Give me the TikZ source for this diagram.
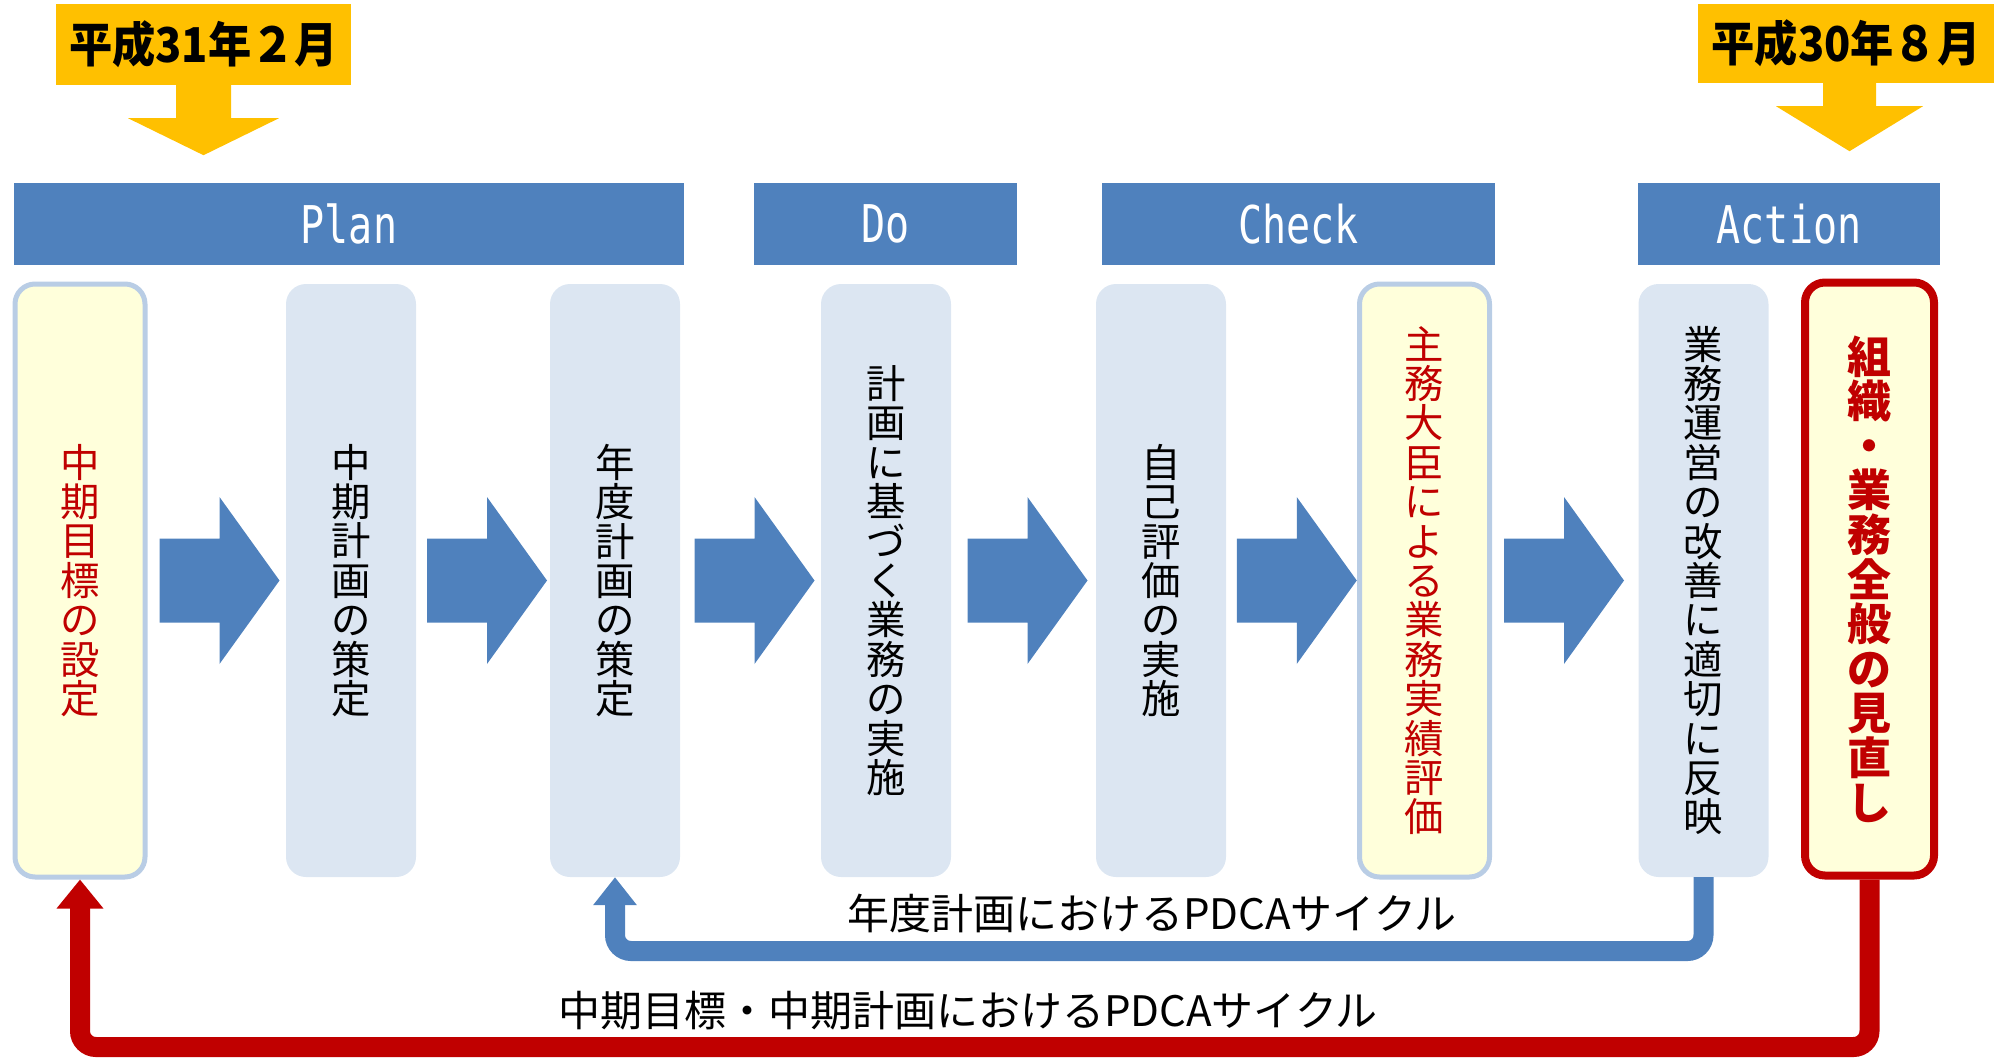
\documentclass[tikz,border=0pt]{standalone}
\usepackage{fontspec}
\newfontfamily\jp{Noto Sans CJK JP}
\newfontfamily\mono{DejaVu Sans Mono}
\usetikzlibrary{arrows.meta,calc}
\definecolor{pblue}{HTML}{4F81BD}
\definecolor{plight}{HTML}{DCE6F2}
\definecolor{pborder}{HTML}{B9CDE5}
\definecolor{pyellow}{HTML}{FFFFDB}
\definecolor{pred}{HTML}{C00000}
\definecolor{porange}{HTML}{FFC000}
\newcommand\coltextfont{\jp\fontsize{39.4}{39.4}\selectfont}
\newcommand\keytextfont{\jp\bfseries\fontsize{44}{44.6}\selectfont}
\begin{document}
\lineskiplimit=-50pt\relax
\begin{tikzpicture}[x=1pt,y=1pt,
  colbox/.style={rectangle, rounded corners=20pt, minimum width=130pt, minimum height=593pt, inner sep=0pt, align=center,
    font=\coltextfont},
  bluecol/.style={colbox, fill=plight},
  yellowcol/.style={colbox, fill=pyellow, draw=pborder, line width=5pt, text=pred},
  keycol/.style={colbox, minimum width=129pt, fill=pyellow, draw=pred, line width=8pt, text=pred,
    font=\keytextfont},
  header/.style={rectangle, fill=pblue, minimum height=82pt, inner sep=0pt, text=white,
    font=\mono\fontsize{52}{52}\selectfont},
  datebox/.style={rectangle, fill=porange, inner sep=0pt, font=\jp\bfseries\fontsize{48}{48}\selectfont},
  loopline/.style={line width=20pt, rounded corners=16pt},
  looplabel/.style={font=\jp\fontsize{42}{42}\selectfont, inner sep=0pt},
  blockarrow/.pic={\fill[pblue] (-60,-42) -- (0,-42) -- (0,-83.5) -- (60,0) -- (0,83.5) -- (0,42) -- (-60,42) -- cycle;}
]
\useasboundingbox (0,0) rectangle (1995,-1060);

% date labels
\node[datebox, minimum width=295pt, minimum height=81pt] (d1) at (203.5,-44.5) {\scalebox{0.9}[1]{平成31年２月}};
\node[datebox, minimum width=296pt, minimum height=79pt] (d2) at (1846,-43.5) {\scalebox{0.9}[1]{平成30年８月}};
\fill[porange, shift={(d1.south)}] (-27.5,1) -- (-27.5,-33) -- (-75.5,-33) -- (0,-70) -- (75.5,-33) -- (27.5,-33) -- (27.5,1) -- cycle;
\fill[porange, shift={(d2.south)}] (-23,1) -- (-23,-23) -- (-70,-23) -- (3.5,-68) -- (77,-23) -- (30,-23) -- (30,1) -- cycle;

% headers
\node[header, minimum width=670pt] (hp) at (349,-224) {\scalebox{0.77}[1]{Plan}};
\node[header, minimum width=263pt] (hd) at (885.5,-224) {\scalebox{0.77}[1]{Do}};
\node[header, minimum width=393pt] (hc) at (1298.5,-224) {\scalebox{0.77}[1]{Check}};
\node[header, minimum width=302pt] (ha) at (1789,-224) {\scalebox{0.77}[1]{Action}};

% columns
\node[yellowcol] (c1) at (80,-580.5) {中\\期\\目\\標\\の\\設\\定};
\node[bluecol] (c2) at (351,-580.5) {中\\期\\計\\画\\の\\策\\定};
\node[bluecol] (c3) at (615,-580.5) {年\\度\\計\\画\\の\\策\\定};
\node[bluecol] (c4) at (886,-580.5) {計\\画\\に\\基\\づ\\く\\業\\務\\の\\実\\施};
\node[bluecol] (c5) at (1161,-580.5) {自\\己\\評\\価\\の\\実\\施};
\node[yellowcol] (c6) at (1424.5,-580.5) {主\\務\\大\\臣\\に\\よ\\る\\業\\務\\実\\績\\評\\価};
\node[bluecol] (c7) at (1703.5,-580.5) {業\\務\\運\\営\\の\\改\\善\\に\\適\\切\\に\\反\\映};
\node[keycol] (c8) at (1869.5,-579) {組\\織\\・\\業\\務\\全\\般\\の\\見\\直\\し};

% block arrows
\pic at ($(c1)!0.5!(c2)+(4,0)$) {blockarrow};
\pic at ($(c2)!0.5!(c3)+(4,0)$) {blockarrow};
\pic at ($(c3)!0.5!(c4)+(4,0)$) {blockarrow};
\pic at ($(c4)!0.5!(c5)+(4,0)$) {blockarrow};
\pic at ($(c5)!0.5!(c6)+(4,0)$) {blockarrow};
\pic at ($(c6)!0.5!(c7)+(0,0)$) {blockarrow};

% loops
\coordinate (bb) at (0,-951);
\coordinate (rb) at (0,-1047);
\draw[pblue, loopline, -{Triangle[width=42pt,length=28pt]}] (c7.south) -- (c7.south |- bb) -- (c3.south |- bb) -- (c3.south);
\draw[pred, loopline, -{Triangle[width=45pt,length=29pt]}] (c8.south) -- (c8.south |- rb) -- (c1.south |- rb) -- (c1.south);

\node[looplabel] (l1) at (1152,-913) {年度計画におけるPDCAサイクル};
\node[looplabel] (l2) at (968,-1011) {中期目標・中期計画におけるPDCAサイクル};
\end{tikzpicture}
\end{document}
